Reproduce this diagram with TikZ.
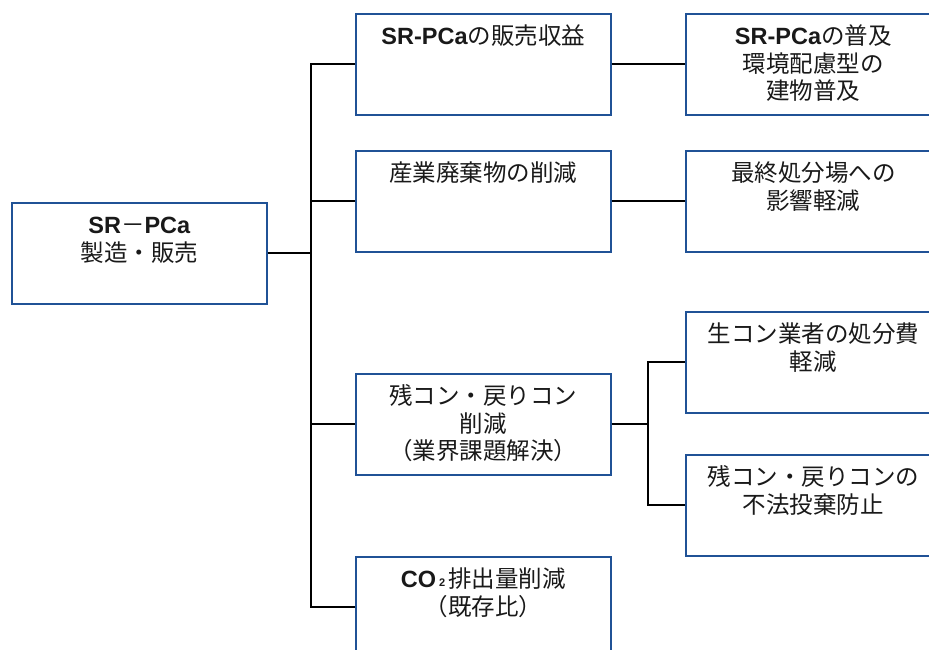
\documentclass[tikz,border=0pt]{standalone}
\usepackage{fontspec}
\setmainfont{Liberation Sans}
\newfontfamily\jp{Noto Sans CJK JP}
\definecolor{boxblue}{RGB}{32,82,150}
\definecolor{txtc}{RGB}{25,25,25}
\newcommand{\boxtext}[1]{\parbox[t][101pt][t]{255pt}{\centering\fontsize{23.5}{27.5}\selectfont\color{txtc}\rule{0pt}{31pt}#1}}
\newcommand{\lt}[1]{{\bfseries #1}}
\newcommand{\subtwo}{\hspace{3pt}\raisebox{1pt}{\fontsize{11}{11}\selectfont\bfseries 2}\hspace{3pt}}
\begin{document}
\begin{tikzpicture}[x=1pt,y=-1pt,
  box/.style={draw=boxblue, line width=1.6pt, inner sep=0pt, anchor=north west},
  conn/.style={draw=black, line width=2pt}]
\useasboundingbox (0,0) rectangle (929,650);
% left
\node[box] (a) at (11,202) {\boxtext{\lt{SR}{\jp －}\lt{PCa}\\{\jp 製造・販売}}};
% middle column
\node[box] (b1) at (355,13) {\boxtext{\lt{SR-PCa}{\jp の販売収益}}};
\node[box] (b2) at (355,150) {\boxtext{{\jp 産業廃棄物の削減}}};
\node[box] (b3) at (355,373) {\boxtext{{\jp 残コン・戻りコン}\\{\jp 削減}\\{\jp （業界課題解決）}}};
\node[box] (b4) at (355,556) {\boxtext{\lt{CO}\subtwo{\jp 排出量削減}\\{\jp （既存比）}}};
% right column
\node[box] (c1) at (685,13) {\boxtext{\lt{SR-PCa}{\jp の普及}\\{\jp 環境配慮型の}\\{\jp 建物普及}}};
\node[box] (c2) at (685,150) {\boxtext{{\jp 最終処分場への}\\{\jp 影響軽減}}};
\node[box] (c3) at (685,311) {\boxtext{{\jp 生コン業者の処分費}\\{\jp 軽減}}};
\node[box] (c4) at (685,454) {\boxtext{{\jp 残コン・戻りコンの}\\{\jp 不法投棄防止}}};
% connectors
\coordinate (t) at (311,0);
\coordinate (u) at (648,0);
\draw[conn] (a.east) -- (a.east -| t);
\draw[conn] (b1.west) -- (b1.west -| t) -- (b4.west -| t) -- (b4.west);
\draw[conn] (b2.west -| t) -- (b2.west);
\draw[conn] (b3.west -| t) -- (b3.west);
\draw[conn] (b1.east) -- (c1.west);
\draw[conn] (b2.east) -- (c2.west);
\draw[conn] (b3.east) -- (b3.east -| u);
\draw[conn] (c3.west) -- (c3.west -| u) -- (c4.west -| u) -- (c4.west);
\end{tikzpicture}
\end{document}
